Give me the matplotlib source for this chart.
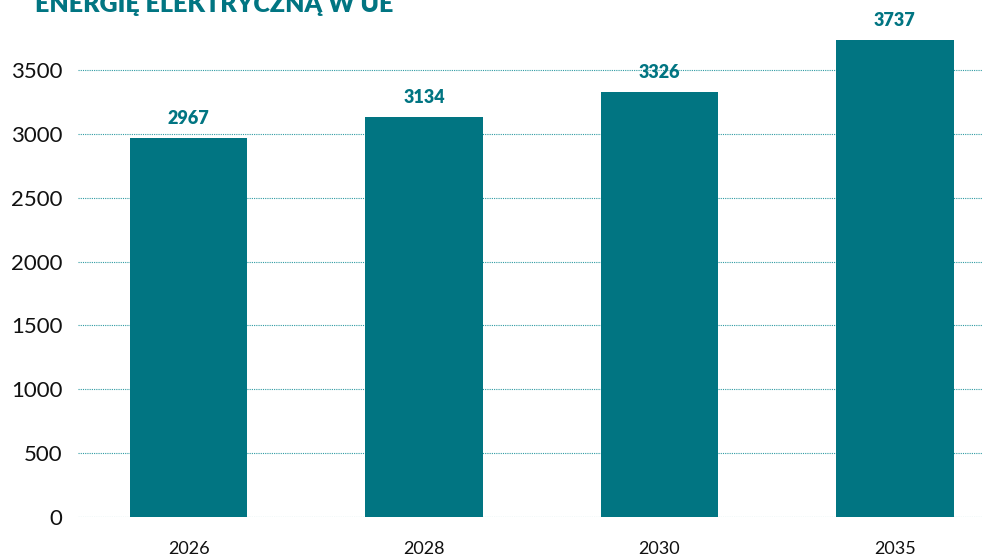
import matplotlib.pyplot as plt
import numpy as np

plt.rcParams['font.family'] = ['Lato', 'DejaVu Sans']

years = ['2026', '2028', '2030', '2035']
values = [2967, 3134, 3326, 3737]
title = 'ENERGIĘ ELEKTRYCZNĄ W UE'

teal = '#017582'

fig = plt.figure(figsize=(9.82, 5.55), dpi=100)
ax = fig.add_axes([78/982, 38/555, 1 - 78/982, 517/555])

x = np.arange(len(years))
bars = ax.bar(x, values, width=0.5, color=teal, zorder=3)

for xi, v in zip(x, values):
    ax.annotate(str(v), (xi, v), xytext=(0, 8), textcoords='offset points',
                ha='center', va='bottom', color=teal, fontsize=13, fontweight='heavy')

ax.set_xlim(-0.47, 3.37)
ax.set_ylim(0, 4048)
ax.set_yticks(np.arange(0, 4000, 500))
ax.set_xticks(x, years)
ax.tick_params(axis='y', length=0, pad=11, labelsize=16, labelcolor='#111111')
ax.tick_params(axis='x', length=0, pad=17, labelsize=13, labelcolor='#111111')
ax.grid(axis='y', color='#2f9ba3', linestyle=(0, (1, 1)), linewidth=0.8, zorder=0)
ax.set_axisbelow(True)
for s in ax.spines.values():
    s.set_visible(False)

fig.text(35/982, 1 - 12/555, title, color=teal, fontsize=18, fontweight='heavy',
         ha='left', va='baseline')

fig.savefig('out.png', dpi=100)
